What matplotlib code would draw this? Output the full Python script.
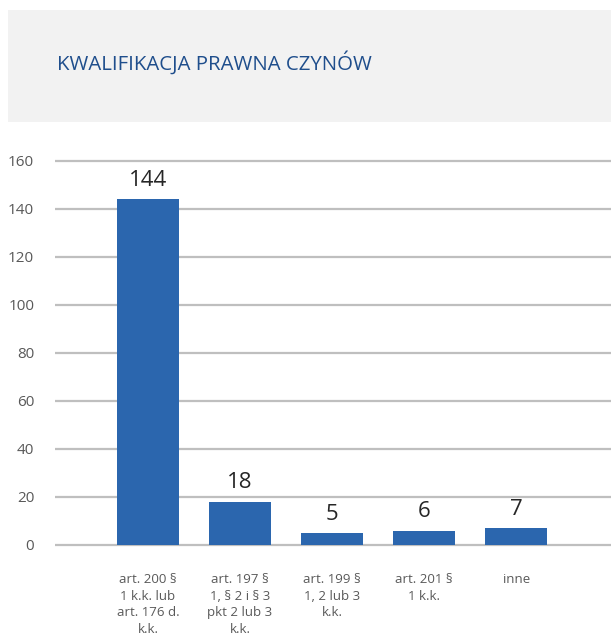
import matplotlib
matplotlib.use('Agg')
import matplotlib.pyplot as plt
from matplotlib.patches import Rectangle

plt.rcParams['font.family'] = ['Open Sans', 'DejaVu Sans']

# data
categories = ['art. 200 §\n1 k.k. lub\nart. 176 d.\nk.k.',
              'art. 197 §\n1, § 2 i § 3\npkt 2 lub 3\nk.k.',
              'art. 199 §\n1, 2 lub 3\nk.k.',
              'art. 201 §\n1 k.k.',
              'inne']
values = [144, 18, 5, 6, 7]
yticks = [0, 20, 40, 60, 80, 100, 120, 140, 160]

fig = plt.figure(figsize=(6.11, 6.44), dpi=100)

# grey header band
fig.patches.append(Rectangle((8 / 611, 1 - 122 / 644), 1 - 8 / 611, 112 / 644,
                             transform=fig.transFigure, facecolor='#f2f2f2',
                             edgecolor='none', zorder=0))
fig.text(57 / 611, 1 - 63 / 644, 'KWALIFIKACJA PRAWNA CZYNÓW', fontsize=14.7,
         color='#1f4e8c', ha='left', va='center')

ax = fig.add_axes([55 / 611, 1 - 545 / 644, 1 - 55 / 611, (545 - 161) / 644])
x = list(range(len(values)))
bars = ax.bar(x, values, width=0.67, color='#2b66ae', zorder=2)

ax.set_xlim(-1.01, 5.03)
ax.set_ylim(0, 160)
ax.hlines(yticks, -1.01, 5.03, colors='#bfbfbf', linewidth=1.6, clip_on=False, zorder=1)

for b, v in zip(bars, values):
    ax.annotate(str(v), (b.get_x() + b.get_width() / 2, v), xytext=(0, 6),
                textcoords='offset points', ha='center', va='bottom',
                fontsize=16, color='#262626')

ax.set_yticks(yticks)
ax.set_yticklabels([str(t) for t in yticks], fontsize=11, color='#595959')
ax.set_xticks(x)
ax.set_xticklabels(categories, fontsize=9.5, color='#595959', linespacing=1.38)
ax.tick_params(axis='y', length=0, pad=15)
ax.tick_params(axis='x', length=0, pad=20)
for s in ax.spines.values():
    s.set_visible(False)

fig.savefig('out.png', dpi=100)
